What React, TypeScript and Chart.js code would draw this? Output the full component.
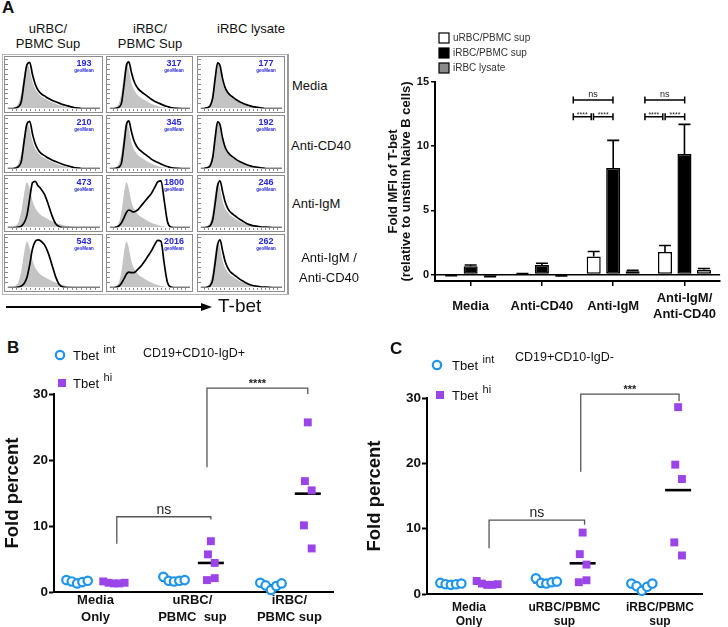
import React, { useEffect, useRef } from "react";
import { Chart, registerables } from "chart.js";

Chart.register(...registerables);

const FONT = "'Liberation Sans', Arial, Helvetica, sans-serif";
Chart.defaults.font.family = FONT;
Chart.defaults.color = "#111";

// ================= Panel A : flow histograms =================
const histColumnHeaders = [["uRBC/", "PBMC Sup"], ["iRBC/", "PBMC Sup"], ["iRBC lysate"]];
const histRowLabels = [["Media"], ["Anti-CD40"], ["Anti-IgM"], ["Anti-IgM /", "Anti-CD40"]];
const geoMeans = [
  [193, 317, 177],
  [210, 345, 192],
  [473, 1800, 246],
  [543, 2016, 262],
];
// T-bet fluorescence bins (relative position along log axis, 0-100) and modal counts (% of max)
const tbetBins = [0, 3, 6, 9, 12, 15, 18, 21, 24, 27, 30, 33, 36, 40, 44, 48, 52, 56, 60, 64, 68, 72, 76, 80, 90, 100];
const unstimNaive = [0, 0, 1, 4, 12, 34, 70, 93, 80, 55, 40, 32, 26, 21, 17, 13, 10, 7, 5, 3, 2, 1, 1, 0, 0, 0];
const urbcBaseline = [0, 0, 0, 1, 4, 15, 55, 90, 95, 70, 50, 38, 31, 26, 21, 17, 14, 11, 8, 6, 4, 2, 1, 0, 0, 0];
const irbcBaseline = [0, 0, 0, 1, 3, 12, 48, 88, 96, 76, 58, 47, 40, 34, 29, 24, 19, 15, 12, 9, 6, 4, 2, 1, 0, 0];
const lysateBaseline = [0, 0, 1, 2, 6, 22, 62, 94, 88, 62, 44, 34, 28, 23, 18, 14, 11, 8, 6, 4, 3, 2, 1, 0, 0, 0];
const lysateIgm = [0, 0, 0, 1, 4, 16, 50, 86, 96, 75, 54, 41, 33, 27, 22, 17, 13, 9, 6, 4, 3, 2, 1, 1, 0, 0];
const urbcIgm = [0, 0, 0, 0, 1, 3, 10, 25, 60, 92, 95, 86, 80, 68, 48, 25, 8, 2, 0, 0, 0, 0, 0, 0, 0, 0];
const urbcIgmCd40 = [0, 0, 0, 0, 1, 3, 8, 20, 46, 78, 93, 96, 94, 86, 70, 46, 22, 6, 1, 0, 0, 0, 0, 0, 0, 0];
const irbcIgm = [0, 0, 0, 1, 4, 10, 20, 31, 36, 34, 32, 34, 38, 46, 54, 62, 70, 82, 94, 96, 55, 12, 1, 0, 0, 0];
const irbcIgmCd40 = [0, 0, 0, 1, 3, 9, 18, 27, 31, 30, 30, 33, 38, 45, 54, 64, 74, 86, 95, 93, 48, 10, 1, 0, 0, 0];
const sampleCurves = [
  [urbcBaseline, irbcBaseline, lysateBaseline],
  [urbcBaseline, irbcBaseline, lysateBaseline],
  [urbcIgm, irbcIgm, lysateIgm],
  [urbcIgmCd40, irbcIgmCd40, lysateIgm],
];
const histXTickMarks = [5, 10, 15, 20, 25, 30, 35, 40, 45, 50, 55, 60, 65, 70, 75, 80, 85, 90, 95];
const histYTickMarks = [10, 20, 30, 40, 50, 60, 70, 80, 90, 100];

// ================= Panel A : bar chart =================
const barCategories = ["Media", "Anti-CD40", "Anti-IgM", ["Anti-IgM/", "Anti-CD40"]];
const foldUrbcSup = [-0.05, 0.04, 1.4, 1.75];
const foldUrbcSupSem = [0.04, 0.04, 0.4, 0.52];
const foldIrbcSup = [0.65, 0.75, 8.3, 9.4];
const foldIrbcSupSem = [0.1, 0.13, 2.15, 2.3];
const foldIrbcLysate = [-0.12, -0.06, 0.25, 0.37];
const foldIrbcLysateSem = [0.04, 0.04, 0.08, 0.1];
const barTickValues = [0, 5, 10, 15];
const barBrackets = [
  { x1: 1.44, x2: 1.997, y: 13.6, label: "ns", big: true },
  { x1: 1.44, x2: 1.692, y: 12.3, label: "****", big: false },
  { x1: 1.723, x2: 1.997, y: 12.3, label: "****", big: false },
  { x1: 2.445, x2: 3.003, y: 13.6, label: "ns", big: true },
  { x1: 2.445, x2: 2.696, y: 12.3, label: "****", big: false },
  { x1: 2.729, x2: 3.003, y: 12.3, label: "****", big: false },
];

// ================= Panels B & C : dot plots =================
const dotCategoriesB = [["Media", "Only"], ["uRBC/", "PBMC  sup"], ["iRBC/", "PBMC sup"]];
const bTbetInt = [[1.8, 1.6, 1.3, 1.5, 1.7], [2.3, 1.7, 1.6, 1.7, 1.8], [1.4, 1.0, 0.3, 0.9, 1.3]];
const bTbetHi = [[1.6, 1.4, 1.3, 1.3, 1.4], [7.7, 5.7, 4.4, 1.8, 2.1], [25.7, 16.8, 15.4, 10.1, 6.6]];
const bMedianInt = [1.6, 1.75, 1.0];
const bMedianHi = [1.4, 4.4, 14.9];
const bBrackets = [
  { x1: 1.22, x2: 2.19, yL: 7.3, yT: 11.4, yR: 11.0, label: "ns", stars: false },
  { x1: 2.15, x2: 3.19, yL: 18.9, yT: 30.9, yR: 30.0, label: "****", stars: true },
];

const dotCategoriesC = [["Media", "Only"], ["uRBC/PBMC", "sup"], ["iRBC/PBMC", "sup"]];
const cTbetInt = [[1.7, 1.5, 1.4, 1.5, 1.6], [2.4, 1.7, 1.6, 1.8, 1.9], [1.6, 1.2, 0.5, 1.1, 1.6]];
const cTbetHi = [[2.0, 1.6, 1.4, 1.4, 1.5], [9.4, 6.1, 4.5, 1.8, 2.1], [28.6, 19.8, 17.6, 7.9, 5.9]];
const cMedianInt = [1.5, 1.8, 1.1];
const cMedianHi = [1.6, 4.7, 15.9];
const cBrackets = [
  { x1: 1.21, x2: 2.21, yL: 7.0, yT: 11.3, yR: 10.6, label: "ns", stars: false },
  { x1: 2.17, x2: 3.2, yL: 18.7, yT: 30.6, yR: 29.5, label: "***", stars: true },
];

// ---- layout constants (not data) ----
const cellX = [4, 106, 197];
const cellW = [99, 87, 88];
const cellY = [56, 115, 175, 234];
const cellH = [57, 58, 57, 58];
const GROUP_OFFSET = 0.19;
const clusterJitter = [-0.11, -0.055, 0, 0.055, 0.11];
const sparseJitter = [0, -0.03, 0.04, -0.04, 0.04];

// ================= helpers =================
function ChartCanvas({ x, y, w, h, make }: { x: number; y: number; w: number; h: number; make: () => any }) {
  const ref = useRef<HTMLCanvasElement>(null);
  useEffect(() => {
    const chart = new Chart(ref.current as HTMLCanvasElement, make());
    return () => chart.destroy();
  }, []);
  return (
    <canvas
      ref={ref}
      width={w}
      height={h}
      style={{ position: "absolute", left: x, top: y, width: w, height: h, display: "block" }}
    />
  );
}

function Txt({ x, y, lines, size, bold, align = "left", lh }: any) {
  const lineH = lh ?? size * 1.2;
  const h = lineH * lines.length;
  const style: any = {
    position: "absolute",
    top: y - h / 2,
    fontSize: size,
    fontWeight: bold ? "bold" : "normal",
    lineHeight: `${lineH}px`,
    whiteSpace: "pre",
    color: "#111",
  };
  if (align === "center") {
    style.left = x - 150;
    style.width = 300;
    style.textAlign = "center";
  } else {
    style.left = x;
  }
  return (
    <div style={style}>
      {lines.map((l: string, i: number) => (
        <div key={i}>{l}</div>
      ))}
    </div>
  );
}

// ---------- histogram ----------
function histogramConfig(r: number, c: number) {
  const toPts = (arr: number[]) => tbetBins.map((b, i) => ({ x: b, y: arr[i] }));
  const value = geoMeans[r][c];
  const tickAxis = (marks: number[]) => ({
    display: true,
    afterBuildTicks: (s: any) => {
      s.ticks = marks.map((v) => ({ value: v }));
    },
    ticks: { display: false },
    grid: { drawOnChartArea: false, drawTicks: true, tickLength: 2.5, color: "#8a8a8a", lineWidth: 1 },
    border: { display: false },
  });
  return {
    type: "line",
    data: {
      datasets: [
        {
          label: "stimulated",
          data: toPts(sampleCurves[r][c]),
          borderColor: "#000",
          borderWidth: 1.7,
          fill: false,
          pointRadius: 0,
          cubicInterpolationMode: "monotone",
        },
        {
          label: "unstim naive",
          data: toPts(unstimNaive),
          borderColor: "rgba(0,0,0,0)",
          borderWidth: 0,
          backgroundColor: "#c4c4c4",
          fill: "origin",
          pointRadius: 0,
          cubicInterpolationMode: "monotone",
        },
      ],
    },
    options: {
      responsive: false,
      animation: false,
      events: [],
      layout: { padding: { top: 1, right: 1, left: 0, bottom: 0 } },
      plugins: { legend: { display: false }, tooltip: { enabled: false } },
      scales: {
        x: { type: "linear", min: 0, max: 100, ...tickAxis(histXTickMarks) },
        y: { min: 0, max: 104, ...tickAxis(histYTickMarks) },
      },
    },
    plugins: [
      {
        id: "geoMean",
        afterDraw(chart: any) {
          const { ctx, chartArea } = chart;
          const cx = chartArea.right - 16;
          ctx.save();
          ctx.fillStyle = "#2626d6";
          ctx.textAlign = "center";
          ctx.textBaseline = "middle";
          ctx.font = `bold 9px ${FONT}`;
          ctx.fillText(String(value), cx, chartArea.top + 6);
          ctx.font = `bold 4.5px ${FONT}`;
          ctx.fillText("geoMean", cx, chartArea.top + 13);
          ctx.restore();
        },
      },
    ],
  };
}

// ---------- bar chart ----------
const barLegendPlugin = {
  id: "barLegend",
  afterDraw(chart: any) {
    const { ctx, chartArea } = chart;
    ctx.save();
    chart.data.datasets.forEach((ds: any, i: number) => {
      const x = chartArea.left + 4;
      const y = chartArea.top - 44 + i * 15;
      ctx.fillStyle = ds.backgroundColor;
      ctx.fillRect(x, y - 5, 10, 10);
      ctx.strokeStyle = "#000";
      ctx.lineWidth = 1.2;
      ctx.strokeRect(x, y - 5, 10, 10);
      ctx.fillStyle = "#333";
      ctx.font = `10px ${FONT}`;
      ctx.textBaseline = "middle";
      ctx.textAlign = "left";
      ctx.fillText(ds.label, x + 14, y);
    });
    ctx.restore();
  },
};

const errorBarPlugin = {
  id: "errorBars",
  afterDatasetsDraw(chart: any) {
    const { ctx } = chart;
    const ys = chart.scales.y;
    ctx.save();
    ctx.strokeStyle = "#000";
    ctx.lineWidth = 1.6;
    chart.data.datasets.forEach((ds: any, di: number) => {
      const meta = chart.getDatasetMeta(di);
      meta.data.forEach((bar: any, i: number) => {
        const v = ds.data[i];
        const e = ds.errors[i];
        const end = v >= 0 ? v + e : v - e;
        const py = ys.getPixelForValue(end);
        ctx.beginPath();
        ctx.moveTo(bar.x, bar.y);
        ctx.lineTo(bar.x, py);
        ctx.moveTo(bar.x - 6, py);
        ctx.lineTo(bar.x + 6, py);
        ctx.stroke();
      });
    });
    ctx.restore();
  },
};

const barBracketPlugin = {
  id: "barBrackets",
  afterDraw(chart: any) {
    const { ctx } = chart;
    const xs = chart.scales.x;
    const ys = chart.scales.y;
    ctx.save();
    ctx.strokeStyle = "#000";
    ctx.lineWidth = 1.5;
    ctx.fillStyle = "#222";
    ctx.textAlign = "center";
    barBrackets.forEach((b) => {
      const x1 = xs.getPixelForValue(b.x1);
      const x2 = xs.getPixelForValue(b.x2);
      const y = ys.getPixelForValue(b.y);
      ctx.beginPath();
      ctx.moveTo(x1, y);
      ctx.lineTo(x2, y);
      ctx.moveTo(x1, y - 3.5);
      ctx.lineTo(x1, y + 3.5);
      ctx.moveTo(x2, y - 3.5);
      ctx.lineTo(x2, y + 3.5);
      ctx.stroke();
      ctx.textBaseline = "alphabetic";
      if (b.big) {
        ctx.font = `9px ${FONT}`;
        ctx.fillText(b.label, (x1 + x2) / 2, y - 3);
      } else {
        ctx.font = `7px ${FONT}`;
        ctx.fillText(b.label, (x1 + x2) / 2, y + 0.5);
      }
    });
    ctx.restore();
  },
};

function barConfig() {
  const base = {
    borderColor: "#000",
    borderWidth: 1.5,
    borderSkipped: false,
    categoryPercentage: 0.82,
    barPercentage: 0.72,
  };
  return {
    type: "bar",
    data: {
      labels: barCategories,
      datasets: [
        { ...base, label: "uRBC/PBMC sup", data: foldUrbcSup, errors: foldUrbcSupSem, backgroundColor: "#ffffff" },
        { ...base, label: "iRBC/PBMC sup", data: foldIrbcSup, errors: foldIrbcSupSem, backgroundColor: "#000000" },
        { ...base, label: "iRBC lysate", data: foldIrbcLysate, errors: foldIrbcLysateSem, backgroundColor: "#8a8a8a" },
      ],
    },
    options: {
      responsive: false,
      animation: false,
      events: [],
      layout: { padding: { top: 62, right: 1, left: 0, bottom: 0 } },
      plugins: { legend: { display: false }, tooltip: { enabled: false } },
      scales: {
        x: {
          grid: { offset: false, drawOnChartArea: false, tickLength: 5, color: "#000", lineWidth: 1.5 },
          border: { color: "#000", width: 2 },
          ticks: {
            font: { size: 13, weight: "bold", lineHeight: 1.3 },
            color: "#111",
            padding: 12,
            maxRotation: 0,
            autoSkip: false,
            crossAlign: "center",
          },
          afterFit: (s: any) => {
            s.height = 49;
          },
        },
        y: {
          min: -0.5,
          max: 15,
          afterBuildTicks: (s: any) => {
            s.ticks = barTickValues.map((v) => ({ value: v }));
          },
          ticks: { font: { size: 11, weight: "bold" }, color: "#111", padding: 2 },
          grid: {
            color: (c: any) => (c.tick && c.tick.value === 0 ? "#000" : "rgba(0,0,0,0)"),
            lineWidth: 1.5,
            tickColor: "#000",
            tickLength: 4,
            tickWidth: 1.5,
          },
          border: { color: "#000", width: 2 },
          title: {
            display: true,
            text: ["Fold MFI of T-bet", "(relative to unstim Naive B cells)"],
            font: { size: 13, weight: "bold", lineHeight: 1 },
            padding: { top: 7, bottom: 0 },
            color: "#111",
          },
          afterFit: (s: any) => {
            s.width = 55;
          },
        },
      },
    },
    plugins: [barLegendPlugin, errorBarPlugin, barBracketPlugin],
  };
}

// ---------- dot plots ----------
function spreadPoints(groups: number[][], side: number) {
  const pts: { x: number; y: number }[] = [];
  groups.forEach((vals, g) => {
    const clustered = Math.max(...vals) - Math.min(...vals) < 1.5;
    vals.forEach((v, i) => {
      pts.push({ x: g + 1 + side * GROUP_OFFSET + (clustered ? clusterJitter[i] : sparseJitter[i]), y: v });
    });
  });
  return pts;
}

function dotPlotConfig(o: any) {
  const INT_COLOR = "#1f95ea";
  const HI_COLOR = "#9b45e8";
  const medians = [
    ...o.medInt.map((v: number, g: number) => ({ x: g + 1 - GROUP_OFFSET, y: v })),
    ...o.medHi.map((v: number, g: number) => ({ x: g + 1 + GROUP_OFFSET, y: v })),
  ];
  return {
    type: "scatter",
    data: {
      datasets: [
        {
          label: "Tbet int",
          data: spreadPoints(o.intVals, -1),
          pointStyle: "circle",
          pointRadius: 4.2,
          pointBorderWidth: 2.2,
          pointBorderColor: INT_COLOR,
          pointBackgroundColor: "#ffffff",
          borderColor: INT_COLOR,
          backgroundColor: "#ffffff",
          clip: false,
        },
        {
          label: "Tbet hi",
          data: spreadPoints(o.hiVals, 1),
          pointStyle: "rect",
          pointRadius: 5.6,
          pointBorderWidth: 0,
          pointBorderColor: HI_COLOR,
          pointBackgroundColor: HI_COLOR,
          borderColor: HI_COLOR,
          backgroundColor: HI_COLOR,
          clip: false,
        },
        {
          label: "median",
          data: medians,
          pointStyle: "line",
          pointRadius: 13,
          pointBorderWidth: 2.6,
          pointBorderColor: "#000",
          pointBackgroundColor: "#000",
          borderColor: "#000",
          clip: false,
        },
      ],
    },
    options: {
      responsive: false,
      animation: false,
      events: [],
      layout: { padding: { top: o.padTop, right: o.padRight, left: 0, bottom: 0 } },
      plugins: { legend: { display: false }, tooltip: { enabled: false } },
      scales: {
        x: {
          type: "linear",
          min: o.xMin,
          max: o.xMax,
          afterBuildTicks: (s: any) => {
            s.ticks = [1, 2, 3].map((v) => ({ value: v }));
          },
          ticks: {
            callback: (v: any) => o.labels[Math.round(v) - 1],
            font: { size: o.xFont, weight: "bold", lineHeight: o.xLineHeight },
            color: "#111",
            padding: o.xPad,
            maxRotation: 0,
            autoSkip: false,
          },
          grid: { display: false },
          border: { color: "#000", width: 2 },
          afterFit: (s: any) => {
            s.height = o.xAxisHeight;
          },
        },
        y: {
          min: 0,
          max: 30,
          afterBuildTicks: (s: any) => {
            s.ticks = [0, 10, 20, 30].map((v) => ({ value: v }));
          },
          ticks: { font: { size: 13.5, weight: "bold" }, color: "#111", padding: 1 },
          grid: { drawOnChartArea: false, tickLength: 5, tickColor: "#000", tickWidth: 2, color: "#000" },
          border: { color: "#000", width: 2 },
          title: {
            display: true,
            text: "Fold percent",
            font: { size: 18.5, weight: "bold", lineHeight: 1.2 },
            padding: { top: o.titlePad, bottom: 0 },
            color: "#111",
          },
          afterFit: (s: any) => {
            s.width = o.yAxisWidth;
          },
        },
      },
    },
    plugins: [
      {
        id: "dotBrackets",
        afterDatasetsDraw(chart: any) {
          const { ctx } = chart;
          const xs = chart.scales.x;
          const ys = chart.scales.y;
          ctx.save();
          ctx.strokeStyle = "#555";
          ctx.lineWidth = 1.3;
          ctx.fillStyle = "#222";
          ctx.textAlign = "center";
          ctx.textBaseline = "alphabetic";
          o.brackets.forEach((b: any) => {
            const x1 = xs.getPixelForValue(b.x1);
            const x2 = xs.getPixelForValue(b.x2);
            const yl = ys.getPixelForValue(b.yL);
            const yt = ys.getPixelForValue(b.yT);
            const yr = ys.getPixelForValue(b.yR);
            ctx.beginPath();
            ctx.moveTo(x1, yl);
            ctx.lineTo(x1, yt);
            ctx.lineTo(x2, yt);
            ctx.lineTo(x2, yr);
            ctx.stroke();
            if (b.stars) {
              ctx.font = `bold 11px ${FONT}`;
              ctx.fillText(b.label, (x1 + x2) / 2, yt - 1);
            } else {
              ctx.font = `14px ${FONT}`;
              ctx.fillText(b.label, (x1 + x2) / 2, yt - 3);
            }
          });
          ctx.restore();
        },
      },
      {
        id: "dotLegend",
        afterDraw(chart: any) {
          const { ctx, chartArea: a } = chart;
          ctx.save();
          const cxI = a.left + o.legIntDx;
          const cyI = a.top + o.legIntDy;
          ctx.beginPath();
          ctx.arc(cxI, cyI, 4.2, 0, Math.PI * 2);
          ctx.strokeStyle = INT_COLOR;
          ctx.lineWidth = 2.2;
          ctx.fillStyle = "#fff";
          ctx.fill();
          ctx.stroke();
          const cxH = a.left + o.legHiDx;
          const cyH = a.top + o.legHiDy;
          ctx.fillStyle = HI_COLOR;
          ctx.fillRect(cxH - 4, cyH - 4, 8, 8);
          ctx.fillStyle = "#111";
          ctx.textAlign = "left";
          ctx.textBaseline = "middle";
          const rows = [
            { x: a.left + o.legTextDx, y: cyI, sup: "int" },
            { x: a.left + o.legTextDx, y: cyH, sup: "hi" },
          ];
          rows.forEach((r) => {
            ctx.font = `13px ${FONT}`;
            ctx.fillText("Tbet", r.x, r.y + 1);
            const w = ctx.measureText("Tbet ").width;
            ctx.font = `11px ${FONT}`;
            ctx.fillText(r.sup, r.x + w + 1, r.y - 5);
          });
          ctx.font = `12.5px ${FONT}`;
          ctx.fillText(o.subset, a.left + o.subsetDx, a.top + o.subsetDy);
          ctx.restore();
        },
      },
    ],
  };
}

const dotB = {
  labels: dotCategoriesB,
  intVals: bTbetInt,
  hiVals: bTbetHi,
  medInt: bMedianInt,
  medHi: bMedianHi,
  brackets: bBrackets,
  subset: "CD19+CD10-IgD+",
  xMin: 0.572,
  xMax: 3.45,
  yAxisWidth: 54,
  xAxisHeight: 35,
  padTop: 54,
  padRight: 27,
  xFont: 13,
  xLineHeight: 1.38,
  xPad: -9,
  titlePad: 2,
  legIntDx: 6,
  legIntDy: -39,
  legHiDx: 8,
  legHiDy: -11,
  legTextDx: 19,
  subsetDx: 89,
  subsetDy: -40,
};

const dotC = {
  labels: dotCategoriesC,
  intVals: cTbetInt,
  hiVals: cTbetHi,
  medInt: cMedianInt,
  medHi: cMedianHi,
  brackets: cBrackets,
  subset: "CD19+CD10-IgD-",
  xMin: 0.56,
  xMax: 3.44,
  yAxisWidth: 67,
  xAxisHeight: 33,
  padTop: 58,
  padRight: 26,
  xFont: 12,
  xLineHeight: 1.17,
  xPad: -1,
  titlePad: 4,
  legIntDx: 10,
  legIntDy: -33,
  legHiDx: 13,
  legHiDy: -3,
  legTextDx: 25,
  subsetDx: 88,
  subsetDy: -40,
};

export default function App() {
  const headerCenters = [48, 150, 251];
  const headerY = [35.5, 35.5, 28];
  const rowLabelPos = [
    { x: 292, y: 86, align: "left" },
    { x: 291, y: 146, align: "left" },
    { x: 292, y: 204, align: "left" },
    { x: 329, y: 268, align: "center" },
  ];
  return (
    <div
      style={{
        position: "absolute",
        left: 0,
        top: 0,
        width: 728,
        height: 627,
        background: "#fff",
        overflow: "hidden",
        fontFamily: FONT,
      }}
    >
      <Txt x={2} y={8} lines={["A"]} size={17} bold />
      {histColumnHeaders.map((lines, c) => (
        <Txt key={c} x={headerCenters[c]} y={headerY[c]} lines={lines} size={13} align="center" lh={15} />
      ))}
      <div
        style={{
          position: "absolute",
          left: 2,
          top: 54,
          width: 287,
          height: 241,
          boxSizing: "border-box",
          border: "1px solid #b4b4b4",
          borderRight: "2px solid #9a9a9a",
        }}
      />
      {geoMeans.map((row, r) =>
        row.map((_, c) => (
          <div
            key={`${r}-${c}`}
            style={{
              position: "absolute",
              left: cellX[c],
              top: cellY[r],
              width: cellW[c],
              height: cellH[r],
              boxSizing: "border-box",
              border: "1.5px solid #8c8c8c",
              background: "#fff",
            }}
          >
            <ChartCanvas x={0} y={0} w={cellW[c] - 3} h={cellH[r] - 3} make={() => histogramConfig(r, c)} />
          </div>
        ))
      )}
      {histRowLabels.map((lines, r) => (
        <Txt
          key={r}
          x={rowLabelPos[r].x}
          y={rowLabelPos[r].y}
          lines={lines}
          size={13}
          align={rowLabelPos[r].align}
          lh={20}
        />
      ))}
      <svg style={{ position: "absolute", left: 0, top: 295 }} width={216} height={24}>
        <line x1={6} y1={12} x2={203} y2={12} stroke="#000" strokeWidth={2} />
        <polygon points="212,12 201,8 201,16" fill="#000" />
      </svg>
      <Txt x={218} y={306} lines={["T-bet"]} size={19} />

      <ChartCanvas x={380} y={20} w={348} h={310} make={barConfig} />

      <Txt x={7} y={348} lines={["B"]} size={17} bold />
      <ChartCanvas x={0} y={340} w={360} h={287} make={() => dotPlotConfig(dotB)} />

      <Txt x={390} y={349} lines={["C"]} size={17} bold />
      <ChartCanvas x={360} y={340} w={368} h={287} make={() => dotPlotConfig(dotC)} />
    </div>
  );
}
